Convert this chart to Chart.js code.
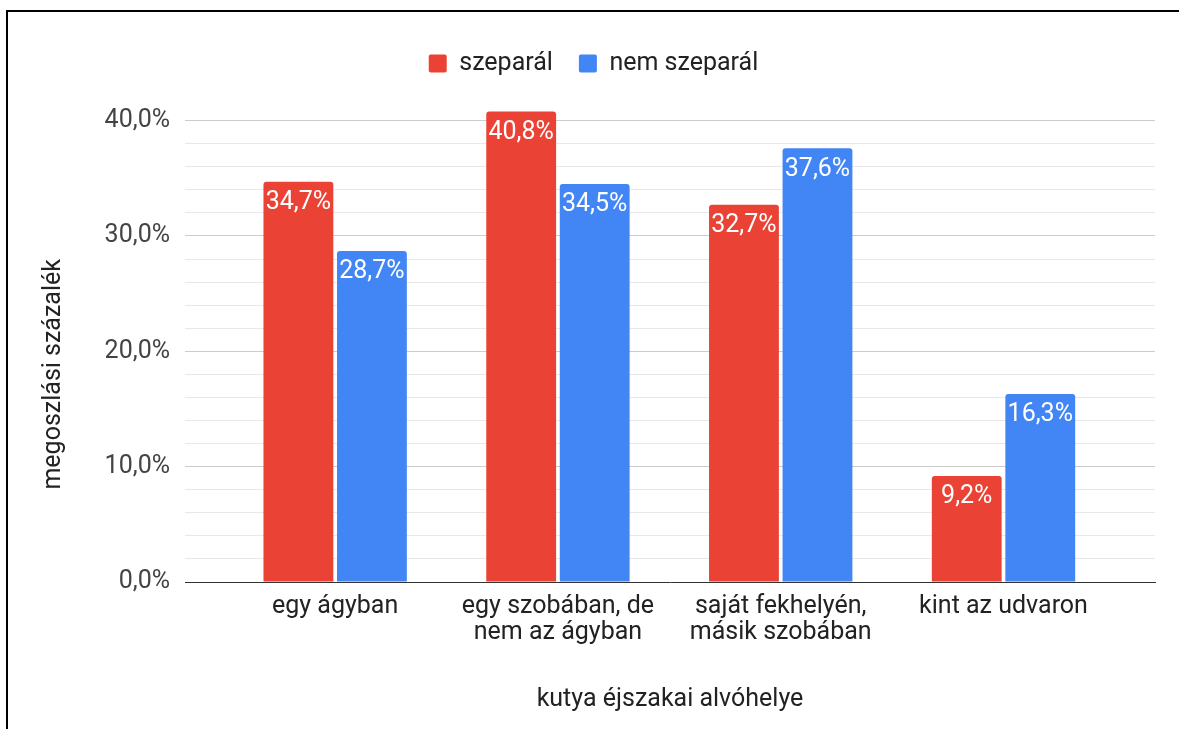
<!DOCTYPE html>
<html>
<head>
<meta charset="utf-8">
<script src="https://cdn.jsdelivr.net/npm/chart.js@4.4.1/dist/chart.umd.min.js"></script>
<style>
  html, body { margin: 0; padding: 0; background: #ffffff; overflow: hidden; }
  #frame { position: absolute; left: 6px; top: 10px; width: 2000px; height: 2000px;
           border-left: 2px solid #000; border-top: 2px solid #000; }
  #c { position: absolute; left: 0; top: 0; }
</style>
</head>
<body>
<div id="frame"></div>
<canvas id="c" width="1179" height="729"></canvas>
<script>
const categories = ['egy ágyban', ['egy szobában, de', 'nem az ágyban'], ['saját fekhelyén,', 'másik szobában'], 'kint az udvaron'];
const seriesNames = ['szeparál', 'nem szeparál'];
const szeparal = [34.7, 40.8, 32.7, 9.2];
const nemSzeparal = [28.7, 34.5, 37.6, 16.3];
const yTickValues = [0, 10, 20, 30, 40];
const yAxisTitle = 'megoszlási százalék';
const xAxisTitle = 'kutya éjszakai alvóhelye';

const FONT = 'Roboto';
const FS = 25;
const fmt = v => v.toFixed(1).replace('.', ',') + '%';

const valueLabels = {
  id: 'valueLabels',
  afterDatasetsDraw(chart) {
    const ctx = chart.ctx;
    ctx.save();
    ctx.fillStyle = '#ffffff';
    ctx.font = FS + 'px ' + FONT;
    ctx.textAlign = 'center';
    ctx.textBaseline = 'middle';
    chart.data.datasets.forEach((ds, di) => {
      const meta = chart.getDatasetMeta(di);
      meta.data.forEach((bar, i) => {
        ctx.fillText(fmt(ds.data[i].y), bar.x, bar.y + 21);
      });
    });
    ctx.restore();
  }
};

// y-axis title, placed like the reference (slightly below the plot-area centre)
const yTitle = {
  id: 'yTitle',
  afterDraw(chart) {
    const ys = chart.scales.y;
    const ctx = chart.ctx;
    const cy = (ys.getPixelForValue(0) + ys.getPixelForValue(40)) / 2 + 23;
    ctx.save();
    ctx.translate(54, cy);
    ctx.rotate(-Math.PI / 2);
    ctx.fillStyle = '#222222';
    ctx.font = FS + 'px ' + FONT;
    ctx.textAlign = 'center';
    ctx.textBaseline = 'middle';
    ctx.fillText(yAxisTitle, 0, 0);
    ctx.restore();
  }
};

new Chart(document.getElementById('c'), {
  type: 'bar',
  data: {
    datasets: [
      { label: seriesNames[0], data: szeparal.map((v, i) => ({ x: i, y: v })),
        backgroundColor: '#EA4335', borderRadius: { topLeft: 3, topRight: 3 }, borderSkipped: 'bottom' },
      { label: seriesNames[1], data: nemSzeparal.map((v, i) => ({ x: i, y: v })),
        backgroundColor: '#4285F4', borderRadius: { topLeft: 3, topRight: 3 }, borderSkipped: 'bottom' }
    ]
  },
  options: {
    responsive: false,
    animation: false,
    devicePixelRatio: 1,
    categoryPercentage: 0.66,
    barPercentage: 0.95,
    layout: { padding: { left: 32, right: 24, top: 25, bottom: 10 } },
    plugins: {
      tooltip: { enabled: false },
      legend: {
        position: 'top',
        align: 'center',
        labels: {
          boxWidth: 18, boxHeight: 18, padding: 26,
          useBorderRadius: true, borderRadius: 2,
          color: '#222222', font: { family: FONT, size: FS }
        }
      }
    },
    scales: {
      x: {
        type: 'linear',
        offset: false,
        min: -0.674,
        max: 3.68,
        grid: { display: false, drawTicks: false, offset: false },
        border: { display: true, color: '#333333', width: 1 },
        ticks: {
          stepSize: 1, autoSkip: false, maxRotation: 0, padding: 12,
          color: '#222222', font: { family: FONT, size: FS, lineHeight: 1.04 },
          callback: v => categories[v]
        },
        afterBuildTicks: axis => {
          axis.ticks = axis.ticks.filter(t => Number.isInteger(t.value) && t.value >= 0 && t.value < categories.length);
        },
        afterFit: axis => { axis.height = 137; },
        title: { display: true, text: xAxisTitle, color: '#222222', font: { family: FONT, size: FS } }
      },
      y: {
        min: 0,
        max: 43,
        grid: {
          drawTicks: false,
          color: c => {
            const v = c.tick.value;
            if (v === 0 || v > 40) return 'rgba(0,0,0,0)';
            return yTickValues.includes(v) ? '#cccccc' : '#e8e8e8';
          }
        },
        border: { display: false },
        ticks: {
          stepSize: 2, autoSkip: false, maxTicksLimit: 100, padding: 15,
          color: '#444444', font: { family: FONT, size: FS },
          callback: v => yTickValues.includes(v) ? fmt(v) : ''
        },
        afterFit: axis => { axis.width = 153; },
        title: { display: false }
      }
    }
  },
  plugins: [valueLabels, yTitle]
});
</script>
</body>
</html>
